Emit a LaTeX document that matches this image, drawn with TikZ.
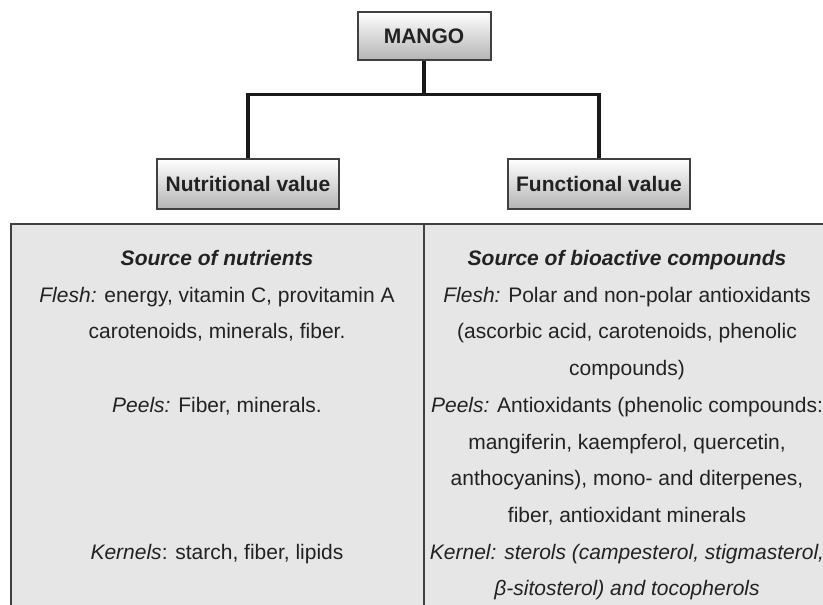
\documentclass[tikz,border=0pt]{standalone}
\usepackage{fontspec}
\setmainfont{Liberation Sans}
\usepackage{xcolor}
\definecolor{BoxEdge}{HTML}{404040}
\definecolor{CellGray}{HTML}{E6E6E6}
\definecolor{ShadeGray}{HTML}{B4B4B4}
\definecolor{InkGray}{HTML}{222222}
\usetikzlibrary{positioning}
\tikzset{
  % Box styles
  titlebox/.style={rectangle, draw=BoxEdge, line width=1.5pt, top color=white, bottom color=ShadeGray, minimum width=99.75pt, minimum height=36pt, font=\fontsize{15.75}{19}\selectfont\bfseries, text=InkGray, align=center},
  valuebox/.style={titlebox, minimum width=136.5pt, minimum height=37.5pt},
  tablebox/.style={draw=BoxEdge, line width=1.5pt, fill=CellGray},
  % Line styles
  link/.style={line width=2.6pt, black!90},
  % Text styles
  celltext/.style={anchor=base, inner sep=0pt, font=\fontsize{15.75}{19}\selectfont, text=InkGray}
}

\begin{document}
\begin{tikzpicture}[x=0.75pt, y=-0.75pt]
  \useasboundingbox (0,0) rectangle (823,605);

  % Top boxes
  \node[titlebox] (mango) at (424,36) {MANGO};
  \node[valuebox] (nutri) at (248,184) {Nutritional value};
  \node[valuebox] (func) at (599,184) {Functional value};

  % Connectors
  \draw[link] (mango.south) -- ++(0,33.5) coordinate (fork);
  \draw[link] (fork) -| (nutri.north);
  \draw[link] (fork) -| (func.north);

  % Table
  \draw[tablebox] (11,224) rectangle (830,625);
  \draw[tablebox] (424,224) -- (424,625);

  % Left column
  \node[celltext] (left0) at (217,265.5) {\textbf{\textit{Source of nutrients}}};
  \node[celltext] (left1) at (217,302.2) {\textit{Flesh:} energy, vitamin C, provitamin A};
  \node[celltext] (left2) at (217,338.9) {carotenoids, minerals, fiber.};
  \node[celltext] (left4) at (217,412.3) {\textit{Peels:} Fiber, minerals.};
  \node[celltext] (left8) at (217,559.1) {\textit{Kernels}: starch, fiber, lipids};

  % Right column
  \node[celltext] (right0) at (627,265.5) {\textbf{\textit{Source of bioactive compounds}}};
  \node[celltext] (right1) at (627,302.2) {\textit{Flesh:} Polar and non-polar antioxidants};
  \node[celltext] (right2) at (627,338.9) {(ascorbic acid, carotenoids, phenolic};
  \node[celltext] (right3) at (627,375.6) {compounds)};
  \node[celltext] (right4) at (627,412.3) {\textit{Peels:} Antioxidants (phenolic compounds:};
  \node[celltext] (right5) at (627,449.0) {mangiferin, kaempferol, quercetin,};
  \node[celltext] (right6) at (627,485.7) {anthocyanins), mono- and diterpenes,};
  \node[celltext] (right7) at (627,522.4) {fiber, antioxidant minerals};
  \node[celltext] (right8) at (627,559.1) {\textit{Kernel: sterols (campesterol, stigmasterol,}};
  \node[celltext] (right9) at (627,595.8) {\textit{β-sitosterol) and tocopherols}};
\end{tikzpicture}
\end{document}
